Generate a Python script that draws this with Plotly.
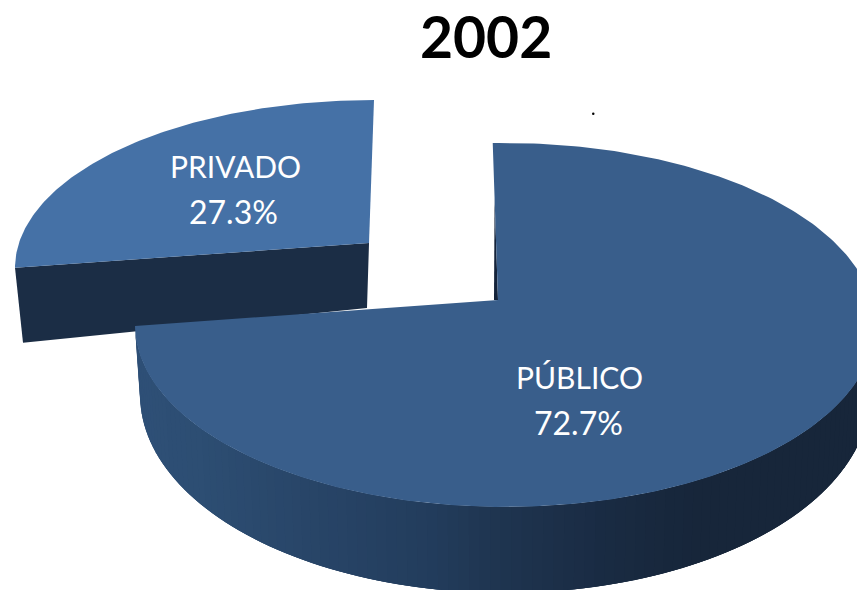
import numpy as np
import plotly.graph_objects as go

# ---- data ----
title_text = "2002"
categories = ["PÚBLICO", "PRIVADO"]
shares = [72.7, 27.3]

# ---- drawing geometry (page pixels) ----
W, H = 857, 590
FONT = "Lato"
PUB_TOP = dict(cx=505, cy=325, rx=370, ry=182)
PUB_BOT = dict(cx=505, cy=395, rx=365, ry=198)
PUB_APEX = (498, 300)
PUB_START, PUB_WARP = -1.9, 1.0377
PRI_TOP = dict(cx=374, cy=268, rx=359, ry=168)
PRI_APEX = (369, 243)
PRI_WARP = 0.915
PRI_DROP = 75
COL_PUB, COL_PRI, COL_WALL = "#395e8b", "#4571a6", "#1b2d45"
SIDE_X = [135, 200, 300, 430, 500, 600, 700, 857]
SIDE_RGB = [(47, 80, 119), (45, 78, 115), (41, 70, 105), (35, 61, 93),
            (31, 53, 80), (26, 44, 68), (23, 38, 58), (23, 38, 58)]


def arc(e, deg):
    t = np.radians(np.asarray(deg, dtype=float))
    return e["cx"] + e["rx"] * np.sin(t), e["cy"] - e["ry"] * np.cos(t)


def poly(xs, ys, color, lw=0):
    return go.Scatter(x=list(xs), y=list(ys), mode="lines", fill="toself",
                      fillcolor=color, hoverinfo="skip", showlegend=False,
                      line=dict(color=color, width=lw))


fig = go.Figure()
total = sum(shares)
pub_sweep = shares[0] / total * 360 * PUB_WARP
pri_sweep = shares[1] / total * 360 * PRI_WARP
pub_end = PUB_START + pub_sweep

# private slice: front wall, then top surface
lx, ly = arc(PRI_TOP, 360 - pri_sweep)
fig.add_trace(poly([lx, lx + 8, PRI_APEX[0] - 2, PRI_APEX[0]],
                   [ly, ly + PRI_DROP, PRI_APEX[1] + 65, PRI_APEX[1]], COL_WALL))
u = np.linspace(360 - pri_sweep, 360, 120)
ax, ay = arc(PRI_TOP, u)
fig.add_trace(poly([PRI_APEX[0], *ax], [PRI_APEX[1], *ay], COL_PRI))

# public slice: outer wall as shaded strips, each overlapped by the next
edges = np.linspace(pub_end, 90, 110)
tx, ty = arc(PUB_TOP, edges)
bx, by = arc(PUB_BOT, edges)
for i in range(len(edges) - 1):
    j = min(i + 3, len(edges) - 1)
    xm = (tx[i] + tx[i + 1]) / 2
    rgb = [int(np.interp(xm, SIDE_X, [c[k] for c in SIDE_RGB])) for k in range(3)]
    fig.add_trace(poly([tx[i], tx[j], bx[j], bx[i]],
                       [ty[i], ty[j], by[j], by[i]],
                       f"rgb({rgb[0]},{rgb[1]},{rgb[2]})"))

# public slice: dark sliver of the inner wall, then top surface
sx, sy = arc(PUB_TOP, PUB_START)
f = 0.35
mx, my = sx + (PUB_APEX[0] - sx) * f, sy + (PUB_APEX[1] - sy) * f
fig.add_trace(poly([mx, PUB_APEX[0] - 4, PUB_APEX[0]], [my, PUB_APEX[1], PUB_APEX[1]], "#14233a"))
u = np.linspace(PUB_START, pub_end, 300)
ax, ay = arc(PUB_TOP, u)
fig.add_trace(poly([PUB_APEX[0], *ax], [PUB_APEX[1], *ay], COL_PUB))

name_pos = [(579, 377), (235, 166)]
pct_pos = [(578, 422), (233, 211)]
annots = []
for c, v, np_, pp in zip(categories, shares, name_pos, pct_pos):
    annots.append(dict(x=np_[0], y=np_[1], xref="x", yref="y", showarrow=False, text=c,
                       font=dict(family=FONT, size=30, color="white")))
    annots.append(dict(x=pp[0], y=pp[1], xref="x", yref="y", showarrow=False, text=f"{v:.1f}%",
                       font=dict(family=FONT, size=32, color="white")))
annots.append(dict(x=486, y=36, xref="x", yref="y", showarrow=False, text=f"<b>{title_text}</b>",
                   font=dict(family=FONT, size=57, color="black")))

fig.update_layout(
    width=W, height=H, margin=dict(l=0, r=0, t=0, b=0),
    paper_bgcolor="white", plot_bgcolor="white", annotations=annots,
    xaxis=dict(range=[0, W], visible=False, fixedrange=True),
    yaxis=dict(range=[H, 0], visible=False, fixedrange=True),
    shapes=[dict(type="circle", x0=592, x1=594.5, y0=112.5, y1=115, xref="x", yref="y",
                 fillcolor="black", line=dict(width=0))],
)
fig.write_html("out.html", config=dict(displayModeBar=False),
               post_script="document.body.style.margin='0';document.documentElement.style.overflow='hidden';")
